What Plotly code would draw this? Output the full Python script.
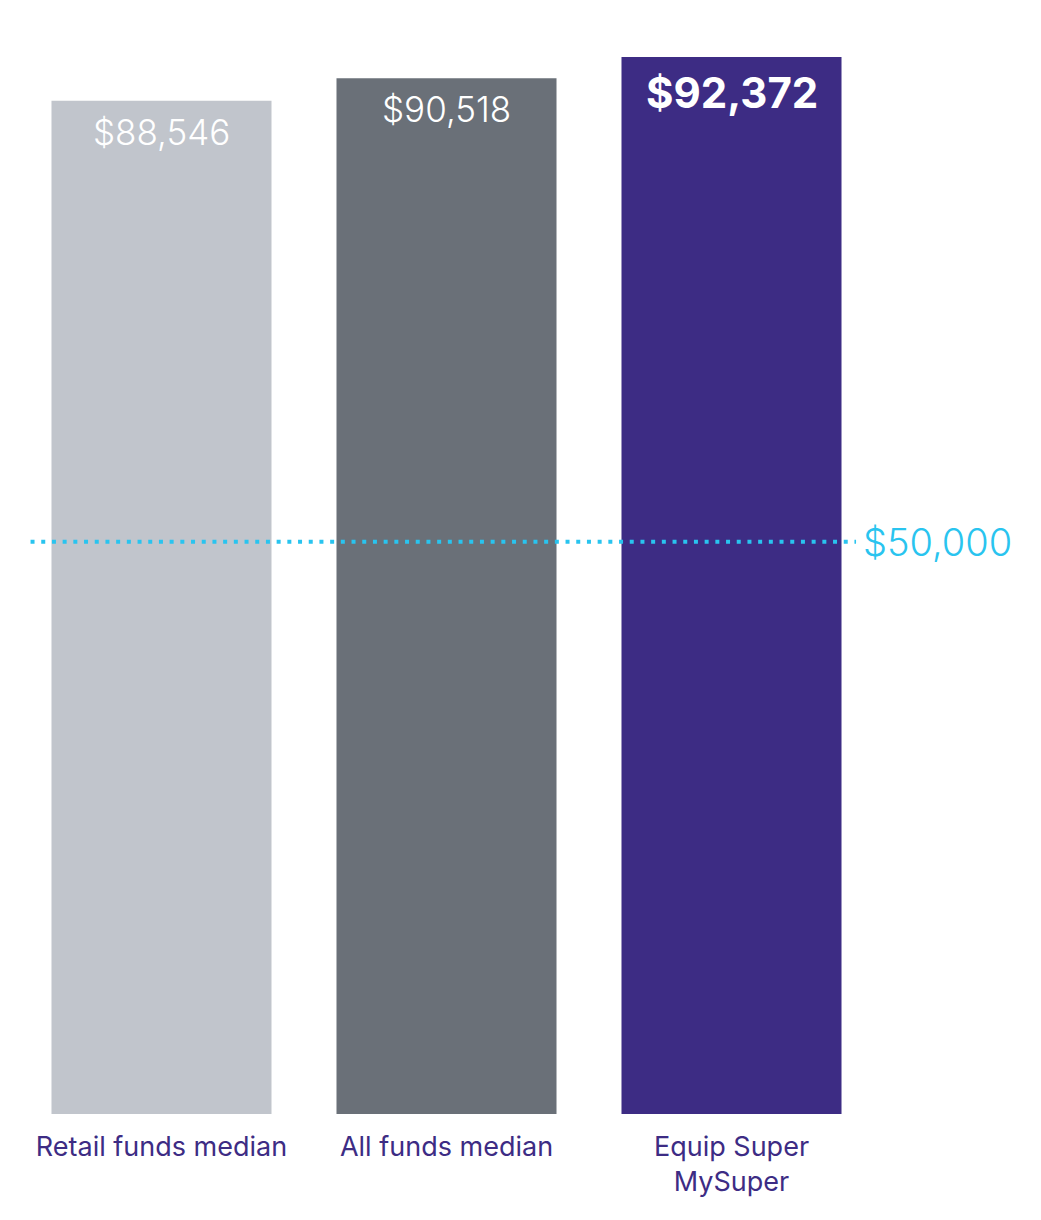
import plotly.graph_objects as go

# Data
categories = ["Retail funds median", "All funds median", "Equip Super<br>MySuper"]
balances = [88546, 90518, 92372]
value_labels = ["$88,546", "$90,518", "$92,372"]
bar_colors = ["#c1c5cc", "#6a7078", "#3d2c84"]
reference_value = 50000
reference_label = "$50,000"

fig = go.Figure()

fig.add_trace(go.Bar(
    x=categories, y=balances,
    marker=dict(color=bar_colors, line=dict(width=0)),
    hoverinfo="skip", showlegend=False,
))

# value labels inside the top of each bar (last one bold and bigger)
for i, (cat, val, lab) in enumerate(zip(categories, balances, value_labels)):
    last = i == len(categories) - 1
    fig.add_annotation(
        x=cat, y=val, text=lab, showarrow=False,
        xanchor="center", yanchor="top", yshift=-8,
        font=dict(family="Inter", size=42 if last else 35, color="white",
                  weight=700 if last else 300),
    )

# dotted reference line
fig.add_shape(
    type="line", xref="paper", yref="y",
    x0=0.0135, x1=0.979, y0=reference_value, y1=reference_value,
    line=dict(color="#29c4ef", width=4, dash="4px,6.7px"),
    layer="above",
)
fig.add_annotation(
    xref="paper", yref="y", x=0.985, y=reference_value,
    text=reference_label, showarrow=False, xanchor="left", yanchor="middle",
    font=dict(family="Inter", size=38, color="#29c4ef", weight=300),
)

fig.update_layout(
    width=1041, height=1220,
    margin=dict(l=11, r=175, t=12, b=114),
    paper_bgcolor="white", plot_bgcolor="white",
    bargap=0.228,
    xaxis=dict(
        showgrid=False, zeroline=False, showline=False, ticks="",
        tickfont=dict(family="Inter", size=27, color="#3d2c84"),
        ticklabelstandoff=14, automargin=False,
    ),
    yaxis=dict(range=[0, 95600], visible=False, showgrid=False,
               zeroline=False, automargin=False),
)

fig.write_html("out.html")
